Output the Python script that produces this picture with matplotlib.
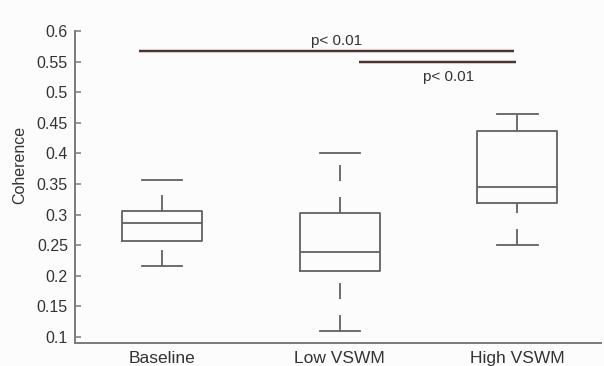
#!/usr/bin/env python3
"""Coherence box plot for baseline / low VSWM / high VSWM with significance bars."""
import matplotlib
matplotlib.use("Agg")
import matplotlib.pyplot as plt

# values
groups = ["Baseline", "Low VSWM", "High VSWM"]
whis_lo = [0.2165, 0.109, 0.250]
q1 = [0.256, 0.207, 0.319]
med = [0.286, 0.239, 0.345]
q3 = [0.305, 0.303, 0.437]
whis_hi = [0.357, 0.401, 0.464]

yticks = [0.1, 0.15, 0.2, 0.25, 0.3, 0.35, 0.4, 0.45, 0.5, 0.55, 0.6]
ytick_labels = ["0.1", "0.15", "0.2", "0.25", "0.3", "0.35", "0.4", "0.45", "0.5", "0.55", "0.6"]

# significance bars: (x start, x end, y, label, label x, label y)
sig_bars = [
    (0.87, 2.98, 0.568, "p< 0.01", 1.98, 0.572),
    (2.11, 2.99, 0.550, "p< 0.01", 2.61, 0.513),
]

plt.rcParams["font.family"] = ["Liberation Sans", "DejaVu Sans"]

BG = "#fcfcfd"
BOX = "#626262"
AX = "#7a7a7a"
TXT = "#333333"
LW = 1.3

fig = plt.figure(figsize=(6.04, 3.66), dpi=100, facecolor=BG)
ax = fig.add_axes([0.124, 0.063, 0.871, 0.852], facecolor=BG)

stats = []
for i, g in enumerate(groups):
    stats.append({"label": g, "whislo": whis_lo[i], "q1": q1[i], "med": med[i],
                  "q3": q3[i], "whishi": whis_hi[i], "fliers": []})

d = 11.5 / LW
parts = ax.bxp(stats, positions=[1, 2, 3], widths=0.45, capwidths=0.226,
               showfliers=False,
               boxprops=dict(color=BOX, lw=LW),
               medianprops=dict(color=BOX, lw=LW),
               whiskerprops=dict(color=BOX, lw=LW, linestyle=(0, (d, d))),
               capprops=dict(color=BOX, lw=LW))

# draw every whisker from bottom to top so the dash pattern starts low
for w in parts["whiskers"]:
    y = w.get_ydata()
    if y[0] > y[1]:
        w.set_ydata(y[::-1])

for x0, x1, y, lab, tx, ty in sig_bars:
    ax.plot([x0, x1], [y, y], color="#f2b8a8", lw=3.0, alpha=0.5,
            solid_capstyle="butt", zorder=3)
    ax.plot([x0, x1], [y, y], color="#3c3a3a", lw=1.6,
            solid_capstyle="butt", zorder=4)
    ax.text(tx, ty, lab, ha="center", va="bottom", fontsize=11, color=TXT)

ax.set_xlim(0.51, 3.47)
ax.set_ylim(0.09, 0.6)
ax.set_yticks(yticks)
ax.set_yticklabels(ytick_labels)
ax.set_xticks([1, 2, 3])
ax.set_xticklabels(groups)

for s in ["top", "right"]:
    ax.spines[s].set_visible(False)
for s in ["left", "bottom"]:
    ax.spines[s].set_color(AX)
    ax.spines[s].set_linewidth(1.4)
ax.spines["left"].set_bounds(0.09, 0.6)

ax.tick_params(axis="y", direction="in", length=4, width=1.1, color=AX,
               labelsize=11.5, labelcolor=TXT, pad=5)
ax.tick_params(axis="x", length=0, labelsize=12.5, labelcolor=TXT, pad=6)
ax.set_ylabel("Coherence", fontsize=11.5, color=TXT)
ax.yaxis.set_label_coords(-0.09, 0.57)

fig.savefig("out.png", dpi=100, facecolor=BG)
